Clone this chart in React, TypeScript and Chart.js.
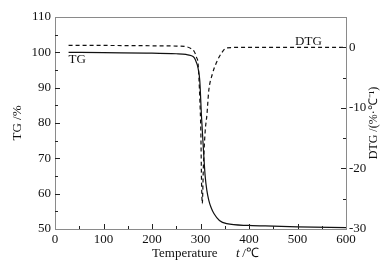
import React, { useEffect, useRef } from "react";
import { Chart, registerables } from "chart.js";

Chart.register(...registerables);

const tgTemps = [28, 100, 200, 250, 270, 280, 287, 292, 295, 298.5, 302, 306, 309.6, 313, 317, 322, 328, 339, 354, 400, 450, 500, 600];
const tgValues = [100.0, 99.9, 99.8, 99.6, 99.4, 99.1, 98.5, 97, 95.5, 92, 82, 72.6, 65, 61, 58.2, 56, 54.3, 52.4, 51.5, 51.0, 50.8, 50.6, 50.4];

const dtgTemps = [28, 100, 200, 250, 270, 280, 287, 292, 295, 298.5, 300.7, 302.2, 303.7, 306, 309.6, 313.3, 317, 324.5, 333, 343, 354, 400, 600];
const dtgValues = [0.3, 0.3, 0.25, 0.2, 0.1, -0.2, -0.7, -1.7, -2.7, -8.3, -14, -22.4, -25.8, -19.6, -13.9, -11.1, -7.2, -4.4, -2.5, -1.0, -0.1, 0, 0];

const xTicks = [0, 100, 200, 300, 400, 500, 600];
const tgTicks = [50, 60, 70, 80, 90, 100, 110];
const dtgTicks = [-30, -20, -10, 0];

const FONT = "'Liberation Serif', 'Times New Roman', serif";

const decor = {
  id: "decor",
  afterDraw(chart: any) {
    const { ctx, chartArea: a, scales } = chart;
    const x = scales.x, y = scales.y, y2 = scales.y2;
    ctx.save();
    ctx.strokeStyle = "#8a8a8a";
    ctx.lineWidth = 1;
    ctx.strokeRect(Math.round(a.left) + 0.5, Math.round(a.top) + 0.5, Math.round(a.right - a.left), Math.round(a.bottom - a.top));

    ctx.strokeStyle = "#222";
    const mids = (arr: number[]) => arr.slice(1).map((v, i) => (v + arr[i]) / 2);
    const bt = (v: number, len: number) => {
      const px = Math.round(x.getPixelForValue(v)) + 0.5;
      ctx.beginPath();
      ctx.moveTo(px, a.bottom);
      ctx.lineTo(px, a.bottom - len);
      ctx.stroke();
    };
    xTicks.slice(1, -1).forEach((v) => bt(v, 5));
    mids(xTicks).forEach((v) => bt(v, 3));
    const lt = (v: number, len: number) => {
      const py = Math.round(y.getPixelForValue(v)) + 0.5;
      ctx.beginPath();
      ctx.moveTo(a.left, py);
      ctx.lineTo(a.left + len, py);
      ctx.stroke();
    };
    tgTicks.slice(1, -1).forEach((v) => lt(v, 5));
    mids(tgTicks).forEach((v) => lt(v, 3));
    const rt = (v: number, len: number) => {
      const py = Math.round(y2.getPixelForValue(v)) + 0.5;
      ctx.beginPath();
      ctx.moveTo(a.right, py);
      ctx.lineTo(a.right - len, py);
      ctx.stroke();
    };
    dtgTicks.slice(1).forEach((v) => rt(v, 5));
    mids(dtgTicks).forEach((v) => rt(v, 3));

    ctx.fillStyle = "#111";
    ctx.font = `13px ${FONT}`;
    ctx.textAlign = "left";
    ctx.textBaseline = "alphabetic";
    ctx.fillText("TG", x.getPixelForValue(28), y.getPixelForValue(97));
    ctx.fillText("DTG", x.getPixelForValue(495), y2.getPixelForValue(0.4));

    const cy = (a.top + a.bottom) / 2;
    ctx.save();
    ctx.translate(18, cy);
    ctx.rotate(-Math.PI / 2);
    ctx.textAlign = "center";
    ctx.textBaseline = "middle";
    ctx.fillText("TG /%", 0, 0);
    ctx.restore();

    ctx.save();
    ctx.translate(374, cy);
    ctx.rotate(-Math.PI / 2);
    ctx.textAlign = "center";
    ctx.textBaseline = "middle";
    ctx.font = `12px ${FONT}`;
    ctx.fillText("DTG /(%·℃⁻¹)", 0, 0);
    ctx.restore();

    ctx.textBaseline = "alphabetic";
    ctx.textAlign = "left";
    const by = 257;
    ctx.font = `13px ${FONT}`;
    ctx.fillText("Temperature", 152, by);
    ctx.font = `italic 13px ${FONT}`;
    ctx.fillText("t", 236, by);
    ctx.font = `13px ${FONT}`;
    ctx.fillText(" /℃", 239, by);
    ctx.restore();
  },
};

export default function App() {
  const ref = useRef<HTMLCanvasElement | null>(null);
  useEffect(() => {
    document.body.style.margin = "0";
    const canvas = ref.current!;
    const chart = new Chart(canvas, {
      type: "line",
      data: {
        datasets: [
          {
            label: "TG",
            data: tgTemps.map((t, i) => ({ x: t, y: tgValues[i] })),
            yAxisID: "y",
            borderColor: "#111",
            borderWidth: 1.2,
            pointRadius: 0,
            cubicInterpolationMode: "monotone",
            fill: false,
          },
          {
            label: "DTG",
            data: dtgTemps.map((t, i) => ({ x: t, y: dtgValues[i] })),
            yAxisID: "y2",
            borderColor: "#111",
            borderWidth: 1.2,
            borderDash: [4, 3],
            pointRadius: 0,
            cubicInterpolationMode: "monotone",
            fill: false,
          },
        ],
      },
      options: {
        animation: false,
        responsive: false,
        maintainAspectRatio: false,
        layout: { padding: { top: 17, left: 0, right: 0, bottom: 0 } },
        plugins: { legend: { display: false }, tooltip: { enabled: false } },
        scales: {
          x: {
            type: "linear",
            min: 0,
            max: 600,
            afterBuildTicks: (s: any) => {
              s.ticks = xTicks.map((v) => ({ value: v }));
            },
            afterFit: (s: any) => {
              s.height = 35;
            },
            grid: { display: false, drawTicks: false },
            border: { display: false },
            ticks: { color: "#111", font: { family: FONT, size: 13 }, padding: 3, maxRotation: 0 },
          },
          y: {
            type: "linear",
            position: "left",
            min: 50,
            max: 110,
            afterBuildTicks: (s: any) => {
              s.ticks = tgTicks.map((v) => ({ value: v }));
            },
            afterFit: (s: any) => {
              s.width = 55;
            },
            grid: { display: false, drawTicks: false },
            border: { display: false },
            ticks: { color: "#111", font: { family: FONT, size: 13 }, padding: 4 },
          },
          y2: {
            type: "linear",
            position: "right",
            min: -30,
            max: 5,
            afterBuildTicks: (s: any) => {
              s.ticks = dtgTicks.map((v) => ({ value: v }));
            },
            afterFit: (s: any) => {
              s.width = 38;
            },
            grid: { display: false, drawTicks: false },
            border: { display: false },
            ticks: { color: "#111", font: { family: FONT, size: 13 }, padding: 3 },
          },
        },
      },
      plugins: [decor],
    });
    return () => chart.destroy();
  }, []);
  return (
    <div style={{ width: 384, height: 264, background: "#fff" }}>
      <canvas ref={ref} width={384} height={264} />
    </div>
  );
}
